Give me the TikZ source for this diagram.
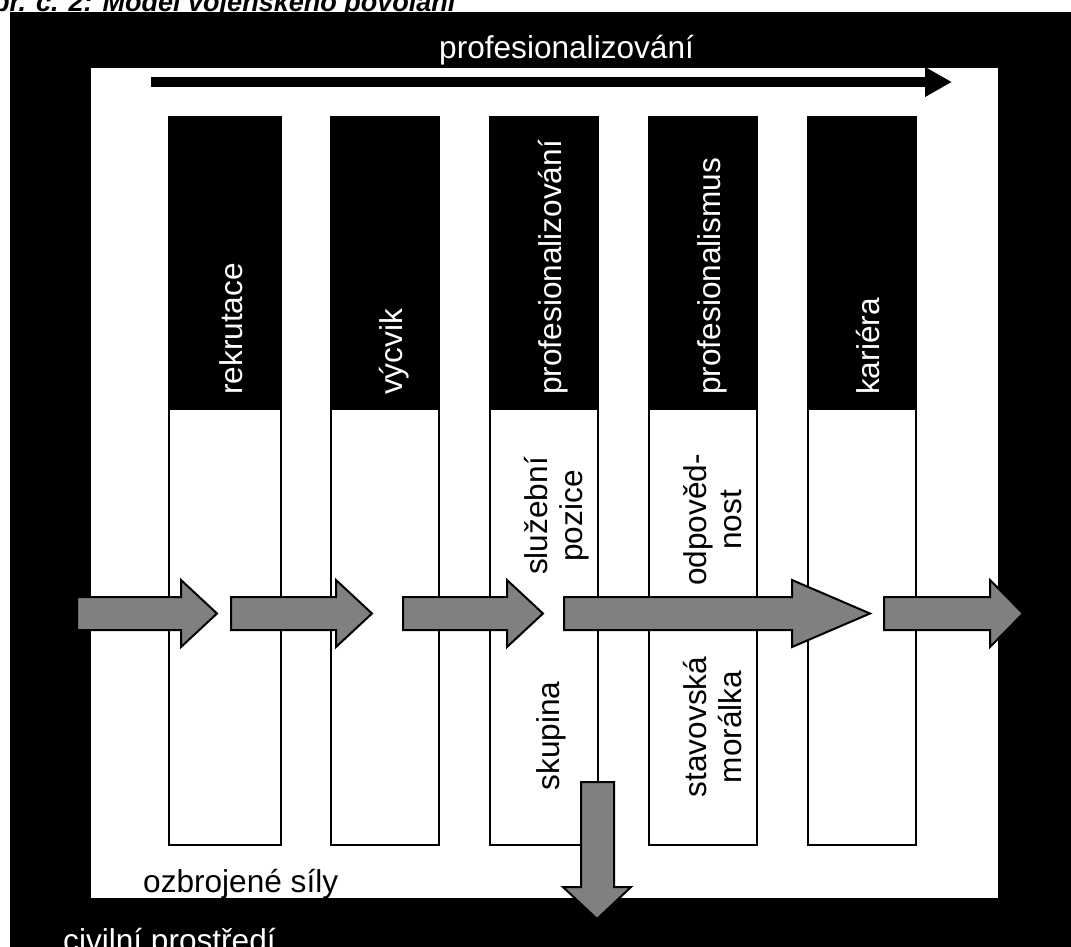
\documentclass[tikz,border=0pt]{standalone}
\usepackage{fontspec}
\setmainfont{Liberation Sans}
\usetikzlibrary{arrows.meta}
\definecolor{arrowgray}{RGB}{128,128,128}
\newcommand\blockarr[3]{%
  \draw[blockarrow] (#1,597) -- (#2,597) -- (#2,580) -- (#3,613.5) -- (#2,647) -- (#2,630) -- (#1,630) -- cycle;}
\begin{document}
\begin{tikzpicture}[x=1pt,y=-1pt,
  txt/.style={font=\fontsize{31.6}{35}\selectfont, inner sep=0pt},
  hdr/.style={txt, text=white, rotate=90, anchor=base west},
  colbody/.style={draw=black, line width=2pt, fill=white},
  blockarrow/.style={fill=arrowgray, draw=black, line width=2pt, line join=miter},
]
\useasboundingbox (0,0) rectangle (1071,946);
\fill[white] (0,0) rectangle (1071,946);
\fill[black] (10,12) rectangle (1072,947);
\fill[white] (91,68) rectangle (998,898);
% title (cut off by the page edge)
\node[font=\fontsize{27}{30}\selectfont\bfseries\itshape, anchor=base west, inner sep=0pt] (title) at (-28,11) {Obr. č. 2: Model vojenského povolání};
% top label and arrow
\node[txt, text=white, anchor=base west] (prof) at (439,58) {profesionalizování};
\coordinate (pa) at (151,82);
\coordinate (pb) at (952,82);
\draw[line width=10pt, -{Triangle[length=27pt,width=28pt]}] (pa) -- (pb);
% columns
\draw[colbody] (169,117) rectangle (281,845);
\draw[colbody] (331,117) rectangle (439,845);
\draw[colbody] (490,117) rectangle (598,845);
\draw[colbody] (649,117) rectangle (757,845);
\draw[colbody] (808,117) rectangle (916,845);
\fill[black] (168,116) rectangle (282,410);
\fill[black] (330,116) rectangle (440,410);
\fill[black] (489,116) rectangle (599,410);
\fill[black] (648,116) rectangle (758,410);
\fill[black] (807,116) rectangle (917,410);
% header texts
\node[hdr] (h1) at (242,395) {rekrutace};
\node[hdr] (h2) at (402,395) {výcvik};
\node[hdr] (h3) at (561,395) {profesionalizování};
\node[hdr] (h4) at (720,395) {profesionalismus};
\node[hdr] (h5) at (879,395) {kariéra};
% body texts
\node[txt, rotate=90, align=center] (t3a) at (557,516) {služební\\pozice};
\node[txt, rotate=90, anchor=base] (t3b) at (559,736) {skupina};
\node[txt, rotate=90, align=center] (t4a) at (713,520) {odpověd-\\nost};
\node[txt, rotate=90, align=center] (t4b) at (713,727) {stavovská\\morálka};
% flow arrows
\blockarr{77}{181}{217}
\blockarr{231}{336}{372}
\blockarr{403}{507}{543}
\blockarr{564}{792}{870}
\blockarr{884}{990}{1023}
\draw[blockarrow] (581,782) -- (614,782) -- (614,887) -- (631,887) -- (597,919) -- (563,887) -- (581,887) -- cycle;
% area labels
\node[txt, anchor=base west] (ozs) at (143,892) {ozbrojené síly};
\node[txt, text=white, anchor=base west] (civ) at (63,951) {civilní prostředí};
\end{tikzpicture}
\end{document}
